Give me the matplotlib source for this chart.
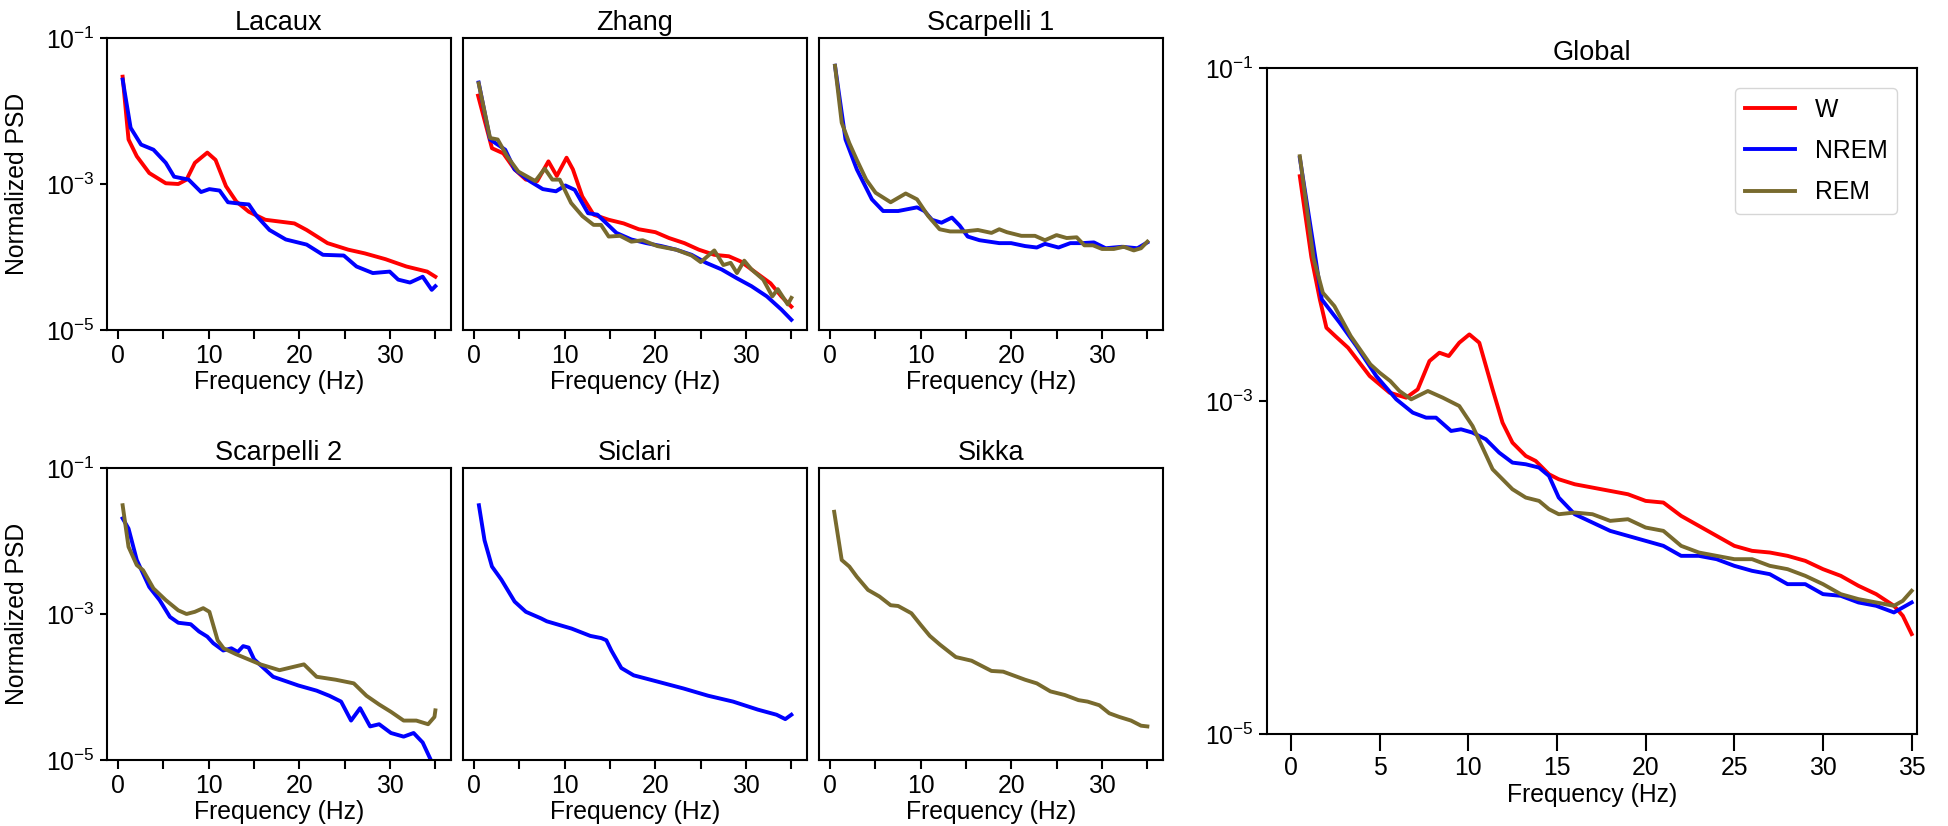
"""Normalized PSD per dataset (W / NREM / REM) plus the pooled global spectrum."""
import matplotlib
import numpy as np

matplotlib.use("Agg")
import matplotlib.pyplot as plt  # noqa: E402
from matplotlib.ticker import NullLocator  # noqa: E402

plt.rcParams["font.family"] = ["Liberation Sans", "DejaVu Sans"]
plt.rcParams["axes.linewidth"] = 1.5

COLORS = {"W": "#ff0000", "NREM": "#0000ff", "REM": "#786a2e"}
STAGES = ["W", "NREM", "REM"]

# ---- per-dataset spectra (frequency in Hz, log10 of normalized PSD) ----
lacaux_w_f = [0.5, 1.15, 2.06, 3.44, 5.26, 6.64, 7.55, 8.47, 9.84, 10.75, 11.9, 13.04, 14.42,
              16.24, 19.45, 20.8, 23.1, 25.4, 27.2, 29.5, 31.8, 34.1, 35.0]
lacaux_w_v = [-1.53, -2.39, -2.62, -2.85, -2.99, -3.00, -2.94, -2.71, -2.57, -2.67, -3.03, -3.24,
              -3.38, -3.49, -3.54, -3.63, -3.81, -3.90, -3.95, -4.03, -4.13, -4.20, -4.27]
lacaux_nrem_f = [0.5, 1.38, 2.53, 3.9, 5.26, 6.18, 7.78, 9.15, 10.07, 11.2, 12.12, 13.5, 14.42,
                 15.3, 16.7, 18.5, 20.8, 22.6, 24.9, 26.3, 28.1, 29.96, 30.9, 32.2, 33.6, 34.6, 35.0]
lacaux_nrem_v = [-1.57, -2.23, -2.46, -2.53, -2.71, -2.90, -2.94, -3.11, -3.07, -3.09, -3.25, -3.27,
                 -3.28, -3.44, -3.63, -3.76, -3.83, -3.97, -3.98, -4.13, -4.22, -4.20, -4.31, -4.35,
                 -4.27, -4.45, -4.40]

zhang_w_f = [0.44, 1.97, 3.22, 4.47, 5.71, 6.96, 8.2, 9.12, 10.2, 10.9, 11.93, 13.18, 14.85, 16.5,
             18.17, 20.0, 21.5, 23.2, 24.8, 26.5, 28.1, 29.4, 30.6, 32.7, 33.9, 35.0]
zhang_w_v = [-1.79, -2.51, -2.58, -2.80, -2.94, -2.96, -2.69, -2.89, -2.64, -2.80, -3.17, -3.42,
             -3.49, -3.54, -3.62, -3.66, -3.74, -3.81, -3.90, -3.97, -3.99, -4.06, -4.17, -4.36,
             -4.54, -4.68]
zhang_nrem_f = [0.5, 1.76, 3.43, 4.47, 6.13, 7.58, 9.03, 10.07, 11.1, 12.57, 13.6, 15.7, 17.35,
                19.0, 20.65, 22.3, 24.0, 25.6, 27.3, 28.97, 30.6, 32.3, 33.9, 35.0]
zhang_nrem_v = [-1.61, -2.39, -2.53, -2.80, -2.96, -3.07, -3.10, -3.02, -3.08, -3.40, -3.42, -3.67,
                -3.76, -3.81, -3.85, -3.90, -3.97, -4.08, -4.17, -4.29, -4.40, -4.54, -4.72, -4.86]
zhang_rem_f = [0.5, 1.76, 2.6, 3.64, 4.88, 6.75, 7.79, 8.63, 9.45, 10.7, 11.95, 13.18, 14.0, 14.85,
               16.1, 17.35, 18.6, 20.2, 22.3, 24.0, 25.0, 26.5, 27.5, 28.3, 29.0, 29.8, 30.6, 31.9,
               32.9, 33.5, 34.6, 35.0]
zhang_rem_v = [-1.62, -2.37, -2.39, -2.62, -2.83, -2.96, -2.79, -2.94, -2.94, -3.26, -3.44, -3.56,
               -3.56, -3.72, -3.71, -3.79, -3.77, -3.85, -3.90, -3.98, -4.07, -3.91, -4.11, -4.08,
               -4.22, -4.05, -4.17, -4.31, -4.54, -4.44, -4.65, -4.56]

scarp1_nrem_f = [0.54, 1.7, 2.95, 4.61, 5.85, 7.51, 9.59, 10.4, 11.24, 12.29, 13.44, 14.3, 15.18,
                 16.48, 18.66, 19.97, 21.5, 22.8, 23.7, 25.2, 26.5, 27.8, 29.1, 30.4, 32.2, 33.9, 35.0]
scarp1_nrem_v = [-1.38, -2.39, -2.80, -3.21, -3.37, -3.37, -3.32, -3.37, -3.49, -3.53, -3.46, -3.57,
                 -3.72, -3.77, -3.81, -3.81, -3.85, -3.87, -3.82, -3.87, -3.81, -3.81, -3.80, -3.88,
                 -3.86, -3.88, -3.80]
scarp1_rem_f = [0.54, 1.28, 2.12, 2.95, 3.98, 5.02, 6.68, 8.34, 9.59, 10.83, 12.08, 13.24, 14.74,
                16.3, 17.8, 18.66, 19.5, 21.1, 22.6, 23.7, 24.98, 26.1, 27.2, 28.05, 29.0, 30.0, 31.3,
                32.4, 33.5, 34.3, 35.0]
scarp1_rem_v = [-1.38, -2.16, -2.44, -2.67, -2.94, -3.12, -3.25, -3.13, -3.21, -3.44, -3.62, -3.65,
                -3.65, -3.63, -3.67, -3.62, -3.66, -3.71, -3.71, -3.77, -3.70, -3.74, -3.73, -3.84,
                -3.84, -3.89, -3.89, -3.86, -3.91, -3.88, -3.79]

scarp2_nrem_f = [0.5, 1.15, 2.06, 3.44, 4.58, 5.72, 6.64, 8.01, 8.93, 9.84, 10.5, 11.6, 12.5, 13.2,
                 13.8, 14.4, 15.0, 17.1, 19.9, 21.9, 23.3, 24.6, 25.7, 26.7, 27.8, 28.8, 30.1, 31.5,
                 32.6, 33.6, 34.5, 35.0]
scarp2_nrem_v = [-1.69, -1.83, -2.26, -2.63, -2.81, -3.04, -3.12, -3.14, -3.24, -3.31, -3.40, -3.50,
                 -3.47, -3.52, -3.44, -3.46, -3.62, -3.86, -3.98, -4.05, -4.12, -4.20, -4.46, -4.29,
                 -4.54, -4.51, -4.63, -4.68, -4.63, -4.76, -5.0, -5.2]
scarp2_rem_f = [0.5, 1.15, 2.06, 2.75, 3.9, 5.26, 6.64, 7.55, 8.47, 9.39, 10.07, 10.98, 11.64, 13.0,
                15.7, 17.8, 20.5, 21.9, 24.0, 26.0, 27.4, 28.8, 30.1, 31.5, 32.9, 34.2, 34.9, 35.0]
scarp2_rem_v = [-1.51, -2.08, -2.33, -2.40, -2.65, -2.81, -2.95, -3.00, -2.97, -2.92, -2.97, -3.36,
                -3.47, -3.55, -3.69, -3.77, -3.69, -3.86, -3.90, -3.95, -4.12, -4.24, -4.34, -4.46,
                -4.46, -4.51, -4.41, -4.32]

siclari_nrem_f = [0.53, 1.15, 1.97, 3.01, 4.47, 5.71, 7.38, 8.02, 10.76, 12.82, 14.03, 14.59, 15.14,
                  16.24, 17.6, 20.35, 23.09, 25.83, 28.57, 31.3, 33.37, 34.33, 35.0]
siclari_nrem_v = [-1.51, -1.99, -2.35, -2.53, -2.83, -2.97, -3.06, -3.10, -3.20, -3.30, -3.33, -3.36,
                  -3.50, -3.74, -3.84, -3.93, -4.02, -4.12, -4.20, -4.31, -4.38, -4.44, -4.38]

sikka_rem_f = [0.45, 1.28, 2.12, 2.95, 4.18, 5.44, 6.68, 7.5, 8.97, 10.0, 11.0, 12.12, 13.87, 15.61,
               17.8, 19.1, 21.5, 22.8, 24.3, 25.9, 27.4, 28.4, 29.7, 30.8, 31.9, 33.2, 34.3, 35.0]
sikka_rem_v = [-1.60, -2.26, -2.35, -2.49, -2.67, -2.76, -2.88, -2.89, -2.99, -3.15, -3.30, -3.42,
               -3.59, -3.64, -3.78, -3.79, -3.90, -3.95, -4.06, -4.11, -4.18, -4.20, -4.25, -4.36,
               -4.41, -4.46, -4.53, -4.54]

# ---- pooled global spectra ----
global_w_f = [0.5, 1.15, 1.63, 2.0, 2.5, 3.22, 4.44, 5.56, 6.5, 7.15, 7.81, 8.37, 8.9, 9.49, 10.06,
              10.62, 11.37, 11.93, 12.49, 13.24, 13.8, 14.55, 15.1, 16, 18, 19, 20, 21, 22, 23, 24,
              25, 26, 27, 28, 29, 30, 31, 32, 33, 34, 34.5, 35]
global_w_v = [-1.65, -2.135, -2.39, -2.56, -2.61, -2.68, -2.85, -2.95, -2.98, -2.93, -2.76, -2.71,
              -2.73, -2.65, -2.60, -2.65, -2.93, -3.13, -3.25, -3.33, -3.36, -3.44, -3.47, -3.50,
              -3.54, -3.56, -3.60, -3.61, -3.69, -3.75, -3.81, -3.87, -3.90, -3.91, -3.93, -3.96,
              -4.01, -4.05, -4.11, -4.16, -4.23, -4.29, -4.40]
global_nrem_f = [0.5, 1.38, 1.74, 2.75, 3.69, 4.81, 5.94, 6.87, 7.62, 8.18, 9.03, 9.59, 10.24, 10.99,
                 11.74, 12.49, 13.24, 13.99, 14.55, 15.1, 16, 17, 18, 20, 21, 22, 23, 24, 25, 26,
                 27, 28, 29, 30, 31, 32, 33, 34, 35]
global_nrem_v = [-1.54, -2.14, -2.39, -2.53, -2.67, -2.85, -2.99, -3.07, -3.10, -3.10, -3.18, -3.17,
                 -3.19, -3.23, -3.31, -3.37, -3.38, -3.40, -3.45, -3.58, -3.68, -3.73, -3.78, -3.84,
                 -3.87, -3.93, -3.93, -3.95, -3.99, -4.02, -4.04, -4.10, -4.10, -4.16, -4.17, -4.21,
                 -4.23, -4.27, -4.21]
global_rem_f = [0.5, 1.27, 1.8, 2.45, 3.37, 4.48, 5.0, 5.6, 6.12, 6.78, 7.72, 8.56, 9.49, 10.24,
                11.37, 12.49, 13.24, 13.99, 14.55, 15.1, 16, 17, 18, 19, 20, 21, 22, 23, 24, 25, 26,
                27, 28, 29, 30, 31, 32, 33, 34, 34.5, 35]
global_rem_v = [-1.53, -2.14, -2.35, -2.43, -2.61, -2.78, -2.83, -2.88, -2.94, -2.99, -2.94, -2.98,
                -3.03, -3.15, -3.41, -3.53, -3.58, -3.60, -3.65, -3.68, -3.67, -3.68, -3.72, -3.71,
                -3.76, -3.78, -3.87, -3.91, -3.93, -3.95, -3.95, -3.99, -4.01, -4.05, -4.10, -4.16,
                -4.19, -4.21, -4.23, -4.20, -4.14]

PANELS = [
    ("Lacaux", {"W": (lacaux_w_f, lacaux_w_v), "NREM": (lacaux_nrem_f, lacaux_nrem_v)}),
    ("Zhang", {"W": (zhang_w_f, zhang_w_v), "NREM": (zhang_nrem_f, zhang_nrem_v),
               "REM": (zhang_rem_f, zhang_rem_v)}),
    ("Scarpelli 1", {"NREM": (scarp1_nrem_f, scarp1_nrem_v), "REM": (scarp1_rem_f, scarp1_rem_v)}),
    ("Scarpelli 2", {"NREM": (scarp2_nrem_f, scarp2_nrem_v), "REM": (scarp2_rem_f, scarp2_rem_v)}),
    ("Siclari", {"NREM": (siclari_nrem_f, siclari_nrem_v)}),
    ("Sikka", {"REM": (sikka_rem_f, sikka_rem_v)}),
]
GLOBAL = {"W": (global_w_f, global_w_v), "NREM": (global_nrem_f, global_nrem_v),
          "REM": (global_rem_f, global_rem_v)}

FS = 17.8
W_PX, H_PX = 1948, 826


def _rect(left, top, right, bottom):
    return [left / W_PX, 1 - bottom / H_PX, (right - left) / W_PX, (bottom - top) / H_PX]


def _draw(ax, curves):
    for stage in STAGES:
        if stage in curves:
            f, v = curves[stage]
            ax.plot(f, 10 ** np.asarray(v), color=COLORS[stage], lw=2.8, label=stage)
    ax.set_yscale("log")
    ax.set_ylim(1e-5, 1e-1)
    ax.set_yticks([1e-5, 1e-3, 1e-1])
    ax.yaxis.set_minor_locator(NullLocator())
    ax.set_xlabel("Frequency (Hz)", fontsize=FS, labelpad=2)
    ax.tick_params(labelsize=FS, width=1.5)


fig = plt.figure(figsize=(W_PX / 100, H_PX / 100), dpi=100)

lefts = [107, 463, 819]
rows = [(38, 330), (468, 760)]
for i, (name, curves) in enumerate(PANELS):
    r, c = divmod(i, 3)
    top, bottom = rows[r]
    ax = fig.add_axes(_rect(lefts[c], top, lefts[c] + 344, bottom))
    _draw(ax, curves)
    ax.set_xlim(-1.225, 36.725)
    ax.set_xticks(range(0, 36, 5), ["0", "", "10", "", "20", "", "30", ""])
    ax.tick_params(axis="x", length=6.3)
    ax.tick_params(axis="y", length=5.3)
    ax.set_title(name, fontsize=19.5)
    if c == 0:
        ax.set_ylabel("Normalized PSD", fontsize=FS, labelpad=12)
    else:
        ax.tick_params(axis="y", left=False, labelleft=False)

axg = fig.add_axes(_rect(1267, 68, 1917, 734))
_draw(axg, GLOBAL)
axg.set_xlim(-1.35, 35.3)
axg.set_xticks(range(0, 36, 5))
axg.tick_params(axis="x", length=12.2)
axg.tick_params(axis="y", length=5.8)
axg.set_title("Global", fontsize=19.5)
axg.legend(loc="upper right", fontsize=FS, labelspacing=0.7, borderaxespad=0.8)

fig.savefig("out.png", dpi=100)
